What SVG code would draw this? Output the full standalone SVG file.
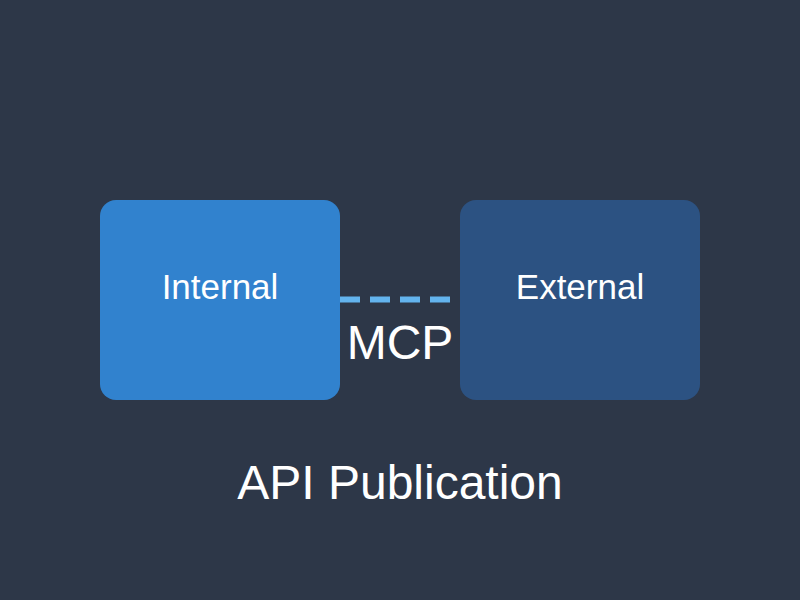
<svg xmlns="http://www.w3.org/2000/svg" width="800" height="600" viewBox="0 0 800 600">
<style>
.lbl{font-family:"Liberation Sans",Arial,sans-serif;fill:#ffffff;text-anchor:middle}
</style>
<rect x="0" y="0" width="800" height="600" fill="#2d3748"/>
<g id="connectors">
<line x1="340" y1="299.5" x2="460" y2="299.5" stroke="#63b3ed" stroke-width="6" stroke-dasharray="20 10"/>
<text class="lbl" x="400" y="359" font-size="48">MCP</text>
</g>
<g id="internal">
<rect x="100" y="200" width="240" height="200" rx="16" fill="#3182ce"/>
<text class="lbl" x="220" y="298.5" font-size="35">Internal</text>
</g>
<g id="external">
<rect x="460" y="200" width="240" height="200" rx="16" fill="#2c5282"/>
<text class="lbl" x="580" y="298.5" font-size="35">External</text>
</g>
<text class="lbl" x="400" y="499" font-size="48">API Publication</text>
</svg>
